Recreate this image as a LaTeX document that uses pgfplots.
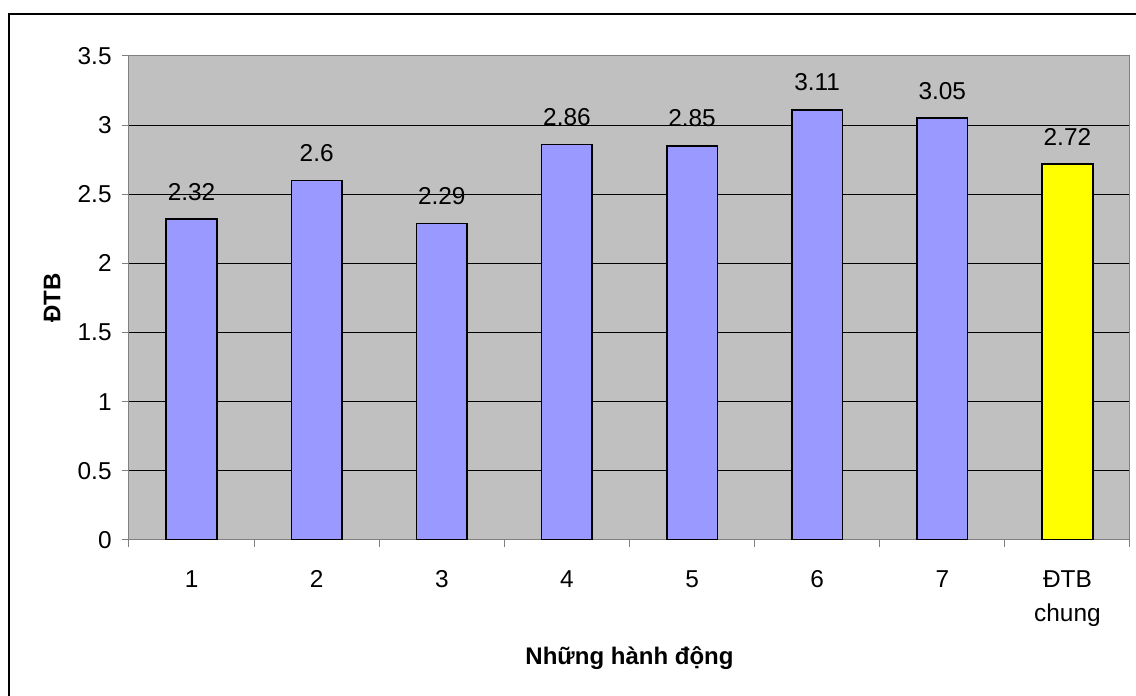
\documentclass[border=0pt]{standalone}
\usepackage{pgfplots}
\pgfplotsset{compat=1.18}
\usepackage{fontspec}
\setmainfont{Liberation Sans}
\definecolor{plotbg}{HTML}{C0C0C0}
\definecolor{barblue}{HTML}{9999FF}
\definecolor{baryellow}{HTML}{FFFF00}
\definecolor{tickgray}{HTML}{808080}

\begin{document}
\begin{tikzpicture}[x=0.5pt,y=0.5pt]
\useasboundingbox (0,0) rectangle (1136,696);
% chart frame
\draw[line width=1pt] (9,0) -- (9,682) -- (1136,682);
\begin{axis}[
  at={(64.5pt,78pt)}, anchor=south west,
  scale only axis, width=500.5pt, height=242pt,
  xmin=-0.5, xmax=7.5, ymin=0, ymax=3.5,
  ytick={0,0.5,1,1.5,2,2.5,3,3.5},
  yticklabels={0,0.5,1,1.5,2,2.5,3,3.5},
  ymajorgrids, grid style={black, line width=0.5pt},
  axis line style={tickgray, line width=0.5pt},
  axis background/.style={fill=plotbg},
  tick align=outside, tick pos=left,
  major tick length=3.5pt,
  tick style={tickgray, line width=0.5pt},
  xtick={-0.5,0.5,1.5,2.5,3.5,4.5,5.5,6.5,7.5}, xticklabels={},
  extra x ticks={0,1,2,3,4,5,6,7},
  extra x tick labels={1,2,3,4,5,6,7,{ĐTB\\chung}},
  extra x tick style={major tick length=0pt, grid=none},
  xticklabel style={align=center, anchor=north, inner sep=0pt, yshift=-15pt,
    font=\fontsize{12.2}{17}\selectfont},
  yticklabel style={anchor=east, inner sep=0pt, xshift=-5pt, font=\fontsize{12.2}{14}\selectfont},
  /pgf/number format/assume math mode=true,
  xlabel={Những hành động},
  ylabel={ĐTB},
  every axis x label/.style={at={(axis description cs:0.5,-0.2438)}, anchor=center,
    font=\fontsize{12}{14}\selectfont\bfseries},
  every axis y label/.style={at={(axis description cs:-0.0769,0.5)}, rotate=90, anchor=center,
    font=\fontsize{12}{14}\selectfont\bfseries},
  nodes near coords,
  every node near coord/.append style={anchor=south, inner sep=0pt, yshift=9pt,
    font=\fontsize{12.2}{14}\selectfont, text=black},
]
\addplot[ybar, bar width=0.405, bar shift=0pt, fill=barblue, draw=black, line width=0.8pt]
  coordinates {(0,2.32) (1,2.6) (2,2.29) (3,2.86) (4,2.85) (5,3.11) (6,3.05)};
\addplot[ybar, bar width=0.405, bar shift=0pt, fill=baryellow, draw=black, line width=0.8pt]
  coordinates {(7,2.72)};
\end{axis}
\end{tikzpicture}
\end{document}
